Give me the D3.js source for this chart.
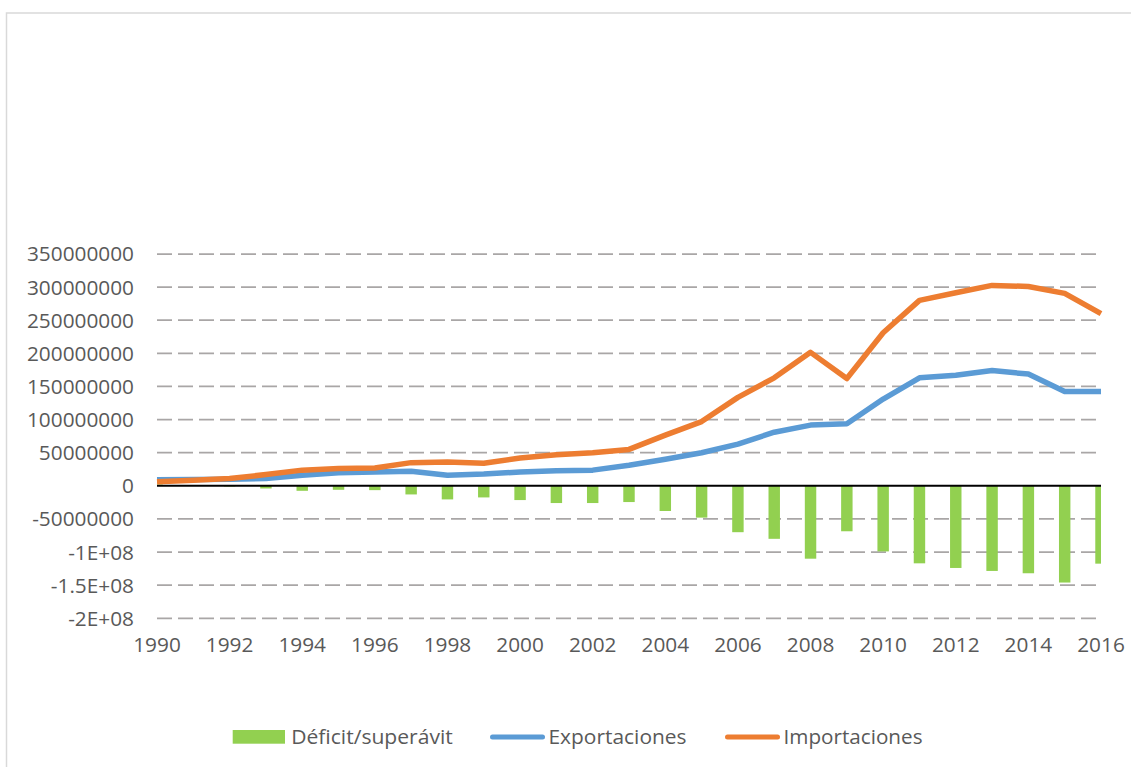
<!DOCTYPE html>
<html>
<head>
<meta charset="utf-8">
<script src="https://cdn.jsdelivr.net/npm/d3@7"></script>
<style>
  body { margin: 0; background: #fff; }
  svg { display: block; }
  text { font-family: "Open Sans", "Noto Sans", sans-serif; fill: #595959; }
</style>
</head>
<body>
<div id="chart"></div>
<script>
// values in millions
const years = d3.range(1990, 2017);
const exportaciones = [9, 9.5, 10, 11, 16, 19.6, 20.7, 22, 16, 17.7, 21, 22.7, 23.7, 31, 40, 50, 63, 81, 91.7, 93.6, 131, 163, 167, 174, 168.7, 142.5, 142.5];
const importaciones = [6, 8.5, 11, 17, 23.7, 26, 27, 35, 36, 34, 42, 47, 50, 55, 76.5, 97, 133.5, 163, 201.5, 162, 231, 280, 291.5, 302.6, 301, 290.5, 260];
const deficit = [2, 1, -1, -4, -7.5, -6, -6.5, -13, -20.5, -17.5, -21.5, -26, -26, -24.5, -38, -48, -70, -80, -110, -68.6, -99, -117, -124, -128.5, -132, -146, -117.5];
const yTicks = [-200, -150, -100, -50, 0, 50, 100, 150, 200, 250, 300, 350];
const yTickLabels = ["-2E+08", "-1.5E+08", "-1E+08", "-50000000", "0", "50000000", "100000000", "150000000", "200000000", "250000000", "300000000", "350000000"];
const xTickYears = d3.range(1990, 2017, 2);
const seriesNames = ["Déficit/superávit", "Exportaciones", "Importaciones"];
const seriesColors = ["#92D050", "#5B9BD5", "#ED7D31"];

const W = 1131, H = 767;
const svg = d3.select("#chart").append("svg")
    .attr("width", W)
    .attr("height", H);

// chart border (Excel frame)
svg.append("rect")
    .attr("x", 6.5).attr("y", 13)
    .attr("width", W + 10).attr("height", H + 10)
    .attr("fill", "none")
    .attr("stroke", "#d9d9d9")
    .attr("stroke-width", 1.5);

const plot = {left: 157, right: 1101, top: 254, bottom: 618.3};

const x = d3.scalePoint()
    .domain(years)
    .range([plot.left, plot.right]);

const y = d3.scaleLinear()
    .domain([-200, 350])
    .range([plot.bottom, plot.top]);

svg.append("clipPath").attr("id", "plot-clip")
    .append("rect")
    .attr("x", plot.left).attr("y", 0)
    .attr("width", plot.right - plot.left).attr("height", H);

// dashed gridlines
svg.append("g")
    .selectAll("line")
    .data(yTicks.filter(d => d !== 0))
    .enter().append("line")
    .attr("x1", plot.left).attr("x2", plot.right)
    .attr("y1", d => y(d)).attr("y2", d => y(d))
    .attr("stroke", "#a9a6a6")
    .attr("stroke-width", 1.75)
    .attr("stroke-dasharray", "15,6");

// y labels
svg.append("g")
    .selectAll("text")
    .data(yTicks)
    .enter().append("text")
    .attr("x", 134)
    .attr("y", d => y(d))
    .attr("dy", "0.36em")
    .attr("text-anchor", "end")
    .style("font-size", "20.8px")
    .text((d, i) => yTickLabels[i]);

// x labels
svg.append("g")
    .selectAll("text")
    .data(xTickYears)
    .enter().append("text")
    .attr("x", d => x(d))
    .attr("y", 652.3)
    .attr("text-anchor", "middle")
    .style("font-size", "20.8px")
    .text(d => d);

// bars
let barW = x.step() * 0.315;
svg.append("g")
    .attr("clip-path", "url(#plot-clip)")
    .selectAll("rect")
    .data(years)
    .enter().append("rect")
    .attr("x", d => x(d) - barW / 2)
    .attr("width", barW)
    .attr("y", (d, i) => y(Math.max(0, deficit[i])))
    .attr("height", (d, i) => Math.abs(y(deficit[i]) - y(0)))
    .attr("fill", seriesColors[0]);

// zero axis
svg.append("line")
    .attr("x1", plot.left).attr("x2", plot.right)
    .attr("y1", y(0)).attr("y2", y(0))
    .attr("stroke", "#000")
    .attr("stroke-width", 2);

// lines
const line = d3.line()
    .x(d => x(d[0]))
    .y(d => y(d[1]));

[exportaciones, importaciones].forEach((vals, k) => {
    svg.append("path")
        .datum(years.map((yr, i) => [yr, vals[i]]))
        .attr("fill", "none")
        .attr("stroke", seriesColors[k + 1])
        .attr("stroke-width", 5.5)
        .attr("stroke-linejoin", "round")
        .attr("d", line);
});

// legend
const legendX = [232.7, 490, 725];
const legendTextW = [161.6, 138, 139];
const legendY = 737;
const lg = svg.append("g");
seriesNames.forEach((name, i) => {
    if (i === 0) {
        lg.append("rect")
            .attr("x", legendX[i]).attr("y", 730)
            .attr("width", 52.3).attr("height", 13.7)
            .attr("fill", seriesColors[i]);
    } else {
        lg.append("line")
            .attr("x1", legendX[i] + 2.5).attr("x2", legendX[i] + 52.5)
            .attr("y1", legendY).attr("y2", legendY)
            .attr("stroke", seriesColors[i])
            .attr("stroke-width", 5)
            .attr("stroke-linecap", "round");
    }
    lg.append("text")
        .attr("x", legendX[i] + 58.5)
        .attr("y", 743.7)
        .attr("textLength", legendTextW[i])
        .attr("lengthAdjust", "spacingAndGlyphs")
        .style("font-size", "19.2px")
        .text(name);
});
</script>
</body>
</html>
